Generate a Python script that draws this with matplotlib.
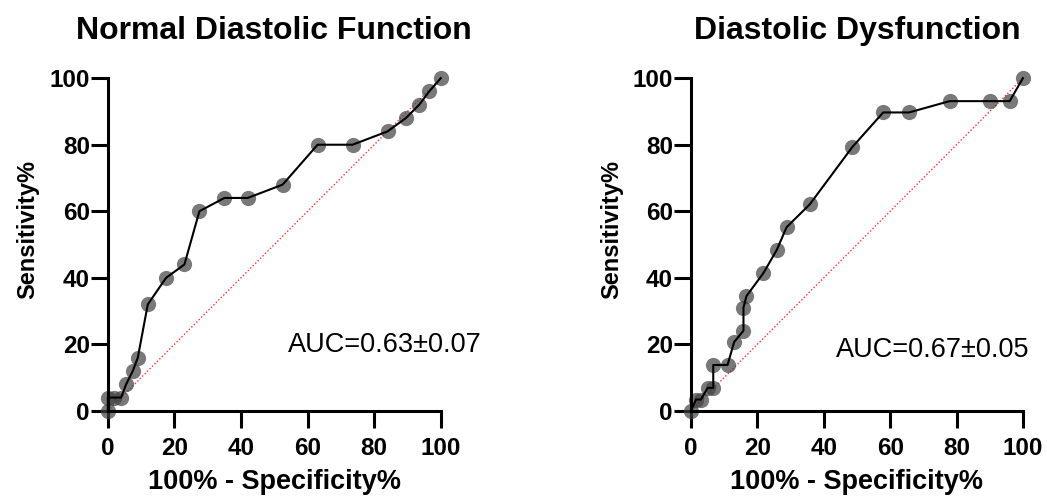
import matplotlib
matplotlib.use("Agg")
import matplotlib.pyplot as plt
import numpy as np

# ROC points, left panel (normal diastolic function)
NORMAL_FPR = [0, 0, 2, 4, 5.5, 7.5, 9, 12, 17.5, 23, 27.5, 35, 42, 52.5, 63, 73.5, 84, 89.5, 93.5, 96.5, 100]
NORMAL_TPR = [0, 4, 4, 4, 8, 12, 16, 32, 40, 44, 60, 64, 64, 68, 80, 80, 84, 88, 92, 96, 100]
NORMAL_AUC = "AUC=0.63\u00b10.07"

# ROC points, right panel (diastolic dysfunction)
DYS_FPR = [0, 1.5, 3, 5, 6.7, 6.7, 11, 13, 15.8, 15.8, 16.7, 21.8, 25.8, 28.8, 35.8, 48.6, 57.9, 65.7, 77.9, 90, 96, 100]
DYS_TPR = [0, 3.4, 3.4, 6.9, 6.9, 13.8, 13.8, 20.7, 24.1, 31.0, 34.5, 41.4, 48.3, 55.2, 62.1, 79.3, 89.7, 89.7, 93.1, 93.1, 93.1, 100]
DYS_AUC = "AUC=0.67\u00b10.05"

TICKS = [0, 20, 40, 60, 80, 100]

plt.rcParams["font.family"] = ["Liberation Sans", "DejaVu Sans"]


def plot_roc(ax, fpr, tpr, title, auc, auc_xy):
    ax.plot([0, 100], [0, 100], color="#ff3333", lw=1.0, ls=(0, (1, 1.5)), zorder=1)
    ax.plot(fpr, tpr, color="black", lw=1.5, zorder=3, clip_on=False)
    ax.scatter(fpr, tpr, s=120, color="#404040", alpha=0.7, lw=0, zorder=2, clip_on=False)
    ax.set_xlim(0, 100)
    ax.set_ylim(0, 100)
    ax.set_xticks(TICKS)
    ax.set_yticks(TICKS)
    for side in ("top", "right"):
        ax.spines[side].set_visible(False)
    for side in ("left", "bottom"):
        ax.spines[side].set_linewidth(2.2)
    ax.tick_params(width=2.2, length=12, labelsize=17.5)
    ax.tick_params(axis="x", pad=7)
    ax.tick_params(axis="y", pad=1)
    for lab in ax.get_xticklabels() + ax.get_yticklabels():
        lab.set_fontweight("bold")
    ax.set_xlabel("100% - Specificity%", fontsize=19.5, fontweight="bold", labelpad=6)
    ax.set_ylabel("Sensitivity%", fontsize=17, fontweight="bold")
    ax.yaxis.set_label_coords(-0.205, 0.545)
    ax.set_title(title, fontsize=23, fontweight="bold", pad=28)
    ax.text(auc_xy[0], auc_xy[1], auc, ha="left", va="baseline", fontsize=19.5, clip_on=False)


fig = plt.figure(figsize=(10.47, 4.98), dpi=100)
ax1 = fig.add_axes([0.103, 0.175, 0.318, 0.668])
ax2 = fig.add_axes([0.660, 0.175, 0.317, 0.668])
plot_roc(ax1, NORMAL_FPR, NORMAL_TPR, "Normal Diastolic Function", NORMAL_AUC, (54, 17.7))
plot_roc(ax2, DYS_FPR, DYS_TPR, "Diastolic Dysfunction", DYS_AUC, (43.7, 16.2))
fig.savefig("out.png", dpi=100)
